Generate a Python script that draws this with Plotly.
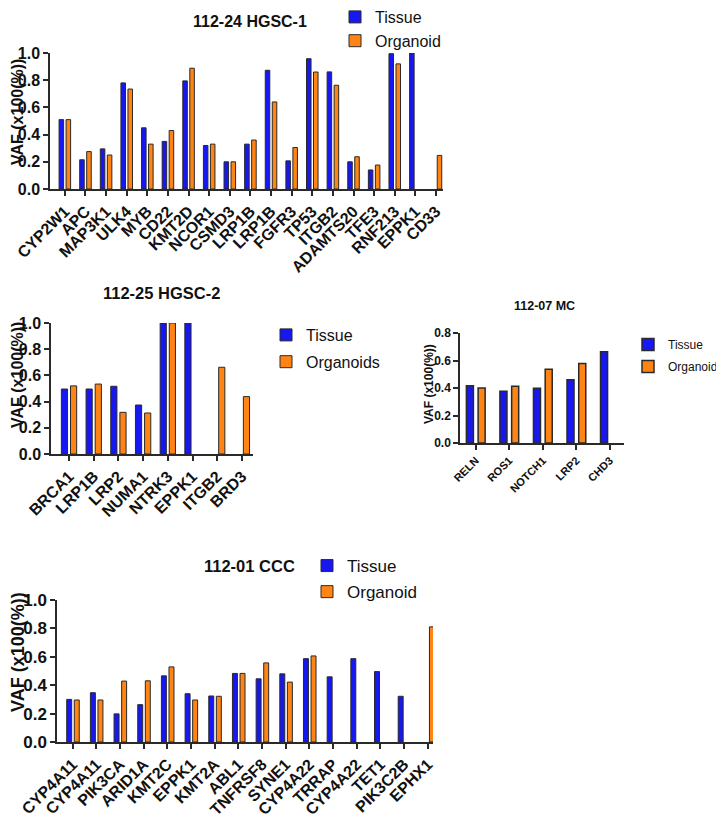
import plotly.graph_objects as go

# ---- data ----
hgsc1_genes = ["CYP2W1", "APC", "MAP3K1", "ULK4", "MYB", "CD22", "KMT2D", "NCOR1", "CSMD3", "LRP1B",
               "LRP1B", "FGFR3", "TP53", "ITGB2", "ADAMTS20", "TFE3", "RNF213", "EPPK1", "CD33"]
hgsc1_tissue = [0.51, 0.215, 0.295, 0.78, 0.45, 0.35, 0.795, 0.32, 0.20, 0.33,
                0.873, 0.207, 0.958, 0.861, 0.20, 0.14, 0.995, 1.0, None]
hgsc1_organoid = [0.51, 0.275, 0.25, 0.735, 0.33, 0.43, 0.888, 0.33, 0.20, 0.36,
                  0.64, 0.305, 0.86, 0.763, 0.237, 0.176, 0.92, None, 0.247]

hgsc2_genes = ["BRCA1", "LRP1B", "LRP2", "NUMA1", "NTRK3", "EPPK1", "ITGB2", "BRD3"]
hgsc2_tissue = [0.496, 0.496, 0.517, 0.374, 1.0, 1.0, None, None]
hgsc2_organoid = [0.52, 0.534, 0.318, 0.313, 1.0, None, 0.662, 0.438]

mc_genes = ["RELN", "ROS1", "NOTCH1", "LRP2", "CHD3"]
mc_tissue = [0.417, 0.376, 0.398, 0.46, 0.664]
mc_organoid = [0.40, 0.412, 0.536, 0.579, None]

ccc_genes = ["CYP4A11", "CYP4A11", "PIK3CA", "ARID1A", "KMT2C", "EPPK1", "KMT2A", "ABL1",
             "TNFRSF8", "SYNE1", "CYP4A22", "TRRAP", "CYP4A22", "TET1", "PIK3C2B", "EPHX1"]
ccc_tissue = [0.30, 0.347, 0.198, 0.263, 0.466, 0.34, 0.324, 0.483,
              0.445, 0.48, 0.587, 0.459, 0.587, 0.496, 0.322, None]
ccc_organoid = [0.296, 0.296, 0.429, 0.431, 0.529, 0.296, 0.322, 0.483,
                0.557, 0.422, 0.606, None, None, None, None, 0.811]

# the page body has an 8px margin, so the figure is drawn 8px smaller
# and every layout position below is given in window pixels
OFF = 8
W, H = 724 - OFF, 820 - OFF
FONT = "Liberation Sans, Arial, sans-serif"
BLUE = "#1717f2"
ORANGE = "#ff8414"
LINE = "#2a2a2a"


def px(v):
    return (v - OFF) / W


def py(v):
    return 1 - (v - OFF) / H


panels = [
    dict(genes=hgsc1_genes, tissue=hgsc1_tissue, org=hgsc1_organoid, org_name="Organoid",
         title="112-24 HGSC-1", title_xy=(250, 21), title_size=16,
         xdom=(50, 443), ydom=(189, 53), xr=[-0.72, 18.34], ymax=1.0,
         tick_size=16, lab_size=16, ytitle=(17, 112, 16),
         bw=0.22, toff=-0.28, ooff=0.06, lw=1,
         leg=(335, 17, 16, 0)),
    dict(genes=hgsc2_genes, tissue=hgsc2_tissue, org=hgsc2_organoid, org_name="Organoids",
         title="112-25 HGSC-2", title_xy=(161, 293), title_size=16.5,
         xdom=(51, 253), ydom=(454, 323), xr=[-0.73, 7.45], ymax=1.0,
         tick_size=16, lab_size=16, ytitle=(17, 375, 16),
         bw=0.25, toff=-0.31, ooff=0.06, lw=1,
         leg=(266, 335, 16, 3)),
    dict(genes=mc_genes, tissue=mc_tissue, org=mc_organoid, org_name="Organoid",
         title="112-07 MC", title_xy=(544, 306), title_size=12.5,
         xdom=(460, 624), ydom=(443, 333), xr=[-0.47, 4.42], ymax=0.8,
         tick_size=12, lab_size=11, ytitle=(429, 384, 12),
         bw=0.21, toff=-0.28, ooff=0.07, lw=1.5,
         leg=(628, 343, 12, 3)),
    dict(genes=ccc_genes, tissue=ccc_tissue, org=ccc_organoid, org_name="Organoid",
         title="112-01 CCC", title_xy=(249, 566), title_size=16.5,
         xdom=(57, 433), ydom=(742, 600), xr=[-0.66, 15.22], ymax=1.0,
         tick_size=17, lab_size=16, ytitle=(18, 652, 18),
         bw=0.21, toff=-0.25, ooff=0.07, lw=1,
         leg=(307, 566, 17, 1)),
]

fig = go.Figure()
annotations = []

for i, p in enumerate(panels, start=1):
    sfx = "" if i == 1 else str(i)
    xa, ya = "x" + sfx, "y" + sfx
    legend_id = "legend" + sfx
    xs = list(range(len(p["genes"])))

    fig.add_trace(go.Bar(x=xs, y=p["tissue"], name="Tissue", xaxis=xa, yaxis=ya,
                         width=p["bw"], offset=p["toff"], legend=legend_id, legendgroup="t" + sfx,
                         marker=dict(color=BLUE, line=dict(color=LINE, width=p["lw"]))))
    fig.add_trace(go.Bar(x=xs, y=p["org"], name=p["org_name"], xaxis=xa, yaxis=ya,
                         width=p["bw"], offset=p["ooff"], legend=legend_id, legendgroup="o" + sfx,
                         marker=dict(color=ORANGE, line=dict(color=LINE, width=p["lw"]))))

    # leg = (left x, centre y of first entry, font size, gap); first entry sits ~1.05*font below legend top
    lx, lcy, lfs, lgap = p["leg"]
    fig.update_layout(**{
        "xaxis" + sfx: dict(domain=[px(p["xdom"][0]), px(p["xdom"][1])], range=p["xr"],
                            anchor=ya, tickvals=xs, ticktext=p["genes"], tickangle=-45, automargin=False,
                            showline=True, linecolor=LINE, linewidth=1.5, ticks="outside",
                            ticklen=5, tickwidth=1.5, tickcolor=LINE, showgrid=False, zeroline=False,
                            tickfont=dict(family=FONT, size=p["lab_size"], color="#111", weight="bold")),
        "yaxis" + sfx: dict(domain=[py(p["ydom"][0]), py(p["ydom"][1])], range=[0, p["ymax"]],
                            anchor=xa, dtick=0.2, tickformat=".1f", automargin=False,
                            showline=True, linecolor=LINE, linewidth=1.5, ticks="outside",
                            ticklen=5, tickwidth=1.5, tickcolor=LINE, showgrid=False, zeroline=False,
                            tickfont=dict(family=FONT, size=p["tick_size"], color="#111", weight="bold")),
        legend_id: dict(x=px(lx), y=py(lcy - round(lfs * 1.05)), xanchor="left", yanchor="top",
                        bgcolor="rgba(0,0,0,0)", traceorder="grouped", tracegroupgap=lgap,
                        font=dict(family=FONT, size=lfs, color="#111")),
    })

    annotations.append(dict(text="<b>%s</b>" % p["title"], x=px(p["title_xy"][0]), y=py(p["title_xy"][1]),
                            xref="paper", yref="paper", showarrow=False, xanchor="center", yanchor="middle",
                            font=dict(family=FONT, size=p["title_size"], color="#111")))
    tx, ty, ts = p["ytitle"]
    annotations.append(dict(text="<b>VAF (x100(%))</b>", x=px(tx), y=py(ty), textangle=-90,
                            xref="paper", yref="paper", showarrow=False, xanchor="center", yanchor="middle",
                            font=dict(family=FONT, size=ts, color="#111")))

fig.update_layout(width=W, height=H, margin=dict(l=0, r=0, t=0, b=0, autoexpand=False),
                  paper_bgcolor="white", plot_bgcolor="white",
                  annotations=annotations, showlegend=True)

fig.write_html("out.html")
